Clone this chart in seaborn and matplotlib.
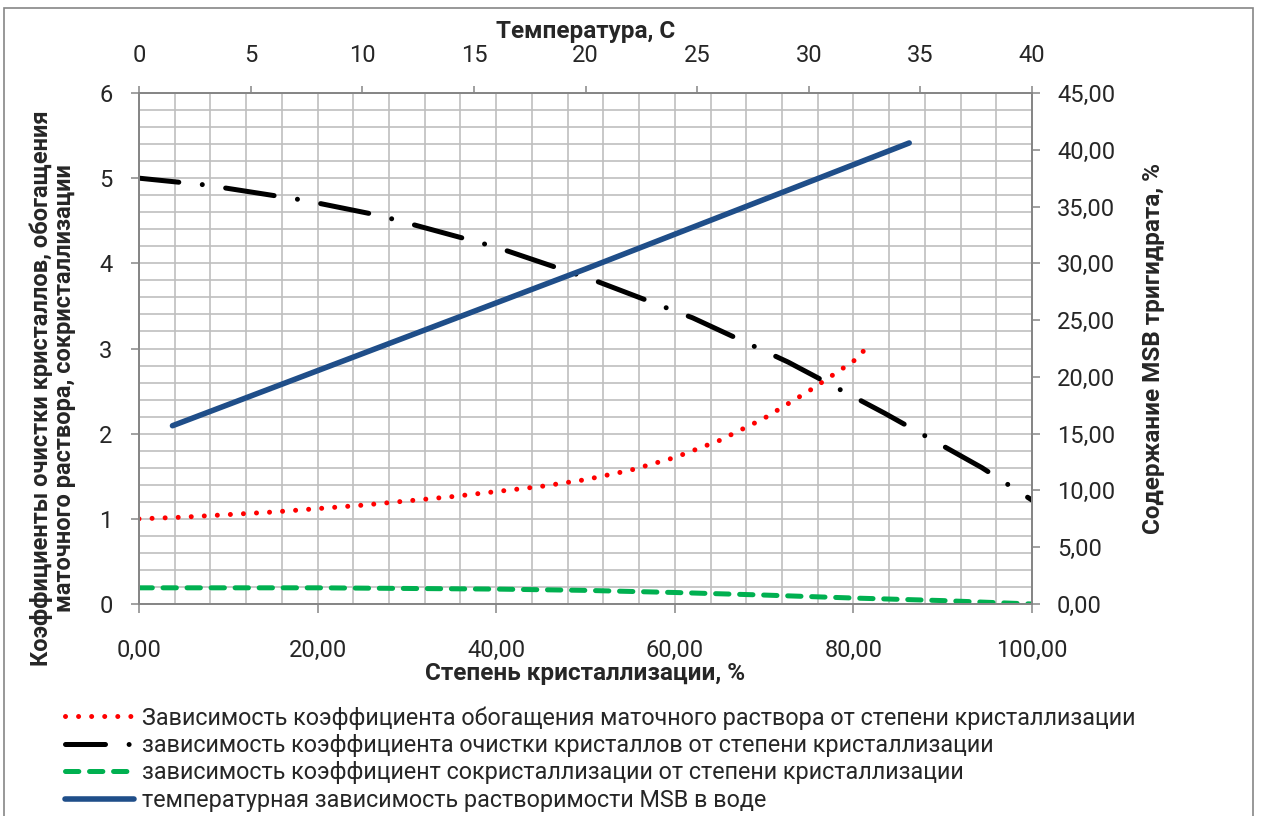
import matplotlib
matplotlib.use("Agg")
import matplotlib.pyplot as plt
from matplotlib.ticker import MultipleLocator, FuncFormatter
from matplotlib.patches import Rectangle
import seaborn as sns

# степень кристаллизации, % -> коэффициент обогащения маточного раствора
enrich_x = [0, 5, 10, 15, 20, 25, 30, 35, 40, 45, 50, 55, 60, 65, 70, 75, 80, 81.6]
enrich_y = [1.00, 1.02, 1.05, 1.08, 1.12, 1.16, 1.21, 1.26, 1.32, 1.38, 1.46, 1.57,
            1.72, 1.92, 2.18, 2.50, 2.85, 3.02]

# коэффициент очистки кристаллов
purif_x = [0, 7.5, 18.5, 27, 40, 51, 62, 72.7, 83.5, 94.4, 100]
purif_y = [5.00, 4.92, 4.74, 4.56, 4.19, 3.80, 3.36, 2.84, 2.24, 1.60, 1.22]

# коэффициент сокристаллизации
cocr_x = [0, 20, 40, 50, 60, 70, 80, 90, 100]
cocr_y = [0.19, 0.19, 0.175, 0.16, 0.135, 0.105, 0.07, 0.04, 0.0]

# температура, C -> содержание MSB тригидрата, %
temp = [1.5, 20, 34.5]
msb = [15.7, 29.5, 40.6]

labels = [
    "Зависимость коэффициента обогащения маточного раствора от степени кристаллизации",
    "зависимость коэффициента очистки кристаллов от степени кристаллизации",
    "зависимость коэффициент сокристаллизации от степени кристаллизации",
    "температурная зависимость растворимости MSB в воде",
]

sns.set_theme(style="white")
plt.rcParams["font.family"] = ["Roboto", "DejaVu Sans"]
plt.rcParams["lines.scale_dashes"] = False

W, H = 1262, 816
fig = plt.figure(figsize=(W / 100, H / 100), dpi=100)
ax = fig.add_axes([139 / W, 1 - 604 / H, (1032 - 139) / W, (604 - 93) / H])
ax2 = ax.twinx()
ax3 = ax2.twiny()

axis_col = "#868686"
tick_fs = 17
lab_fs = 17.5

sns.lineplot(x=enrich_x, y=enrich_y, ax=ax, color="#FF0000", lw=3.6,
             linestyle=(0, (0.01, 9.4)), dash_capstyle="round")
sns.lineplot(x=purif_x, y=purif_y, ax=ax, color="black", lw=3.6,
             linestyle=(6.5, (35.3, 17, 0.01, 17)), dash_capstyle="round")
sns.lineplot(x=cocr_x, y=cocr_y, ax=ax, color="#00B050", lw=3.6,
             linestyle=(0, (9.6, 7.7)), dash_capstyle="round")
sns.lineplot(x=temp, y=msb, ax=ax3, color="#1F4E89", lw=4,
             solid_capstyle="round")

ax.set_xlim(0, 100)
ax.set_ylim(0, 6)
ax3.set_xlim(0, 40)
ax3.set_ylim(0, 45)

ax.xaxis.set_major_locator(MultipleLocator(20))
ax.xaxis.set_minor_locator(MultipleLocator(4))
ax.yaxis.set_major_locator(MultipleLocator(1))
ax.yaxis.set_minor_locator(MultipleLocator(0.2))
ax.grid(which="both", color="#BFBFBF", lw=1.2)
ax.set_axisbelow(True)
ax.xaxis.set_major_formatter(FuncFormatter(lambda v, p: f"{v:.2f}".replace(".", ",")))
ax2.yaxis.set_major_locator(MultipleLocator(5))
ax2.yaxis.set_major_formatter(FuncFormatter(lambda v, p: f"{v:.2f}".replace(".", ",")))
ax3.xaxis.set_major_locator(MultipleLocator(5))

ax.tick_params(axis="y", which="major", direction="out", length=6, width=1.1,
               color=axis_col, pad=13, labelsize=tick_fs, left=True)
ax.tick_params(axis="x", which="major", direction="out", length=6.5, width=1.1,
               color=axis_col, pad=19, labelsize=tick_fs, bottom=True)
ax.tick_params(which="minor", length=0)
ax2.tick_params(axis="y", direction="out", length=6, width=1.1, color=axis_col,
                pad=12, labelsize=tick_fs, right=True)
ax3.tick_params(axis="x", direction="out", length=5, width=1.1, color=axis_col,
                pad=14, labelsize=tick_fs, top=True)

for a in (ax, ax2, ax3):
    for s in a.spines.values():
        s.set_color(axis_col)
        s.set_linewidth(1.1)

ax.set_xlabel("Степень кристаллизации, %", fontsize=lab_fs, fontweight="bold", labelpad=0)
ax.set_ylabel("Коэффициенты очистки кристаллов, обогащения\nматочного раствора, сокристаллизации",
              fontsize=17, fontweight="bold", linespacing=1.05)
ax.yaxis.set_label_coords(-0.07, 0.423)
ax2.set_ylabel("Содержание MSB тригидрата, %", fontsize=lab_fs, fontweight="bold", labelpad=19)
ax3.set_xlabel("Температура, С", fontsize=lab_fs, fontweight="bold", labelpad=4)

handles = [ax.lines[0], ax.lines[1], ax.lines[2], ax3.lines[0]]
fig.legend(handles, labels, loc="upper left", bbox_to_anchor=(65 / W, 1 - 706 / H),
           frameon=False, fontsize=16.8, handlelength=2.96, handletextpad=0.34,
           labelspacing=0.19, borderpad=0, borderaxespad=0)

fig.patches.append(Rectangle((4 / W, -0.01), (1253 - 4) / W, 1 - 8 / H + 0.01,
                             transform=fig.transFigure, fill=False,
                             edgecolor=axis_col, lw=1.2))

fig.savefig("out.png", dpi=100)
